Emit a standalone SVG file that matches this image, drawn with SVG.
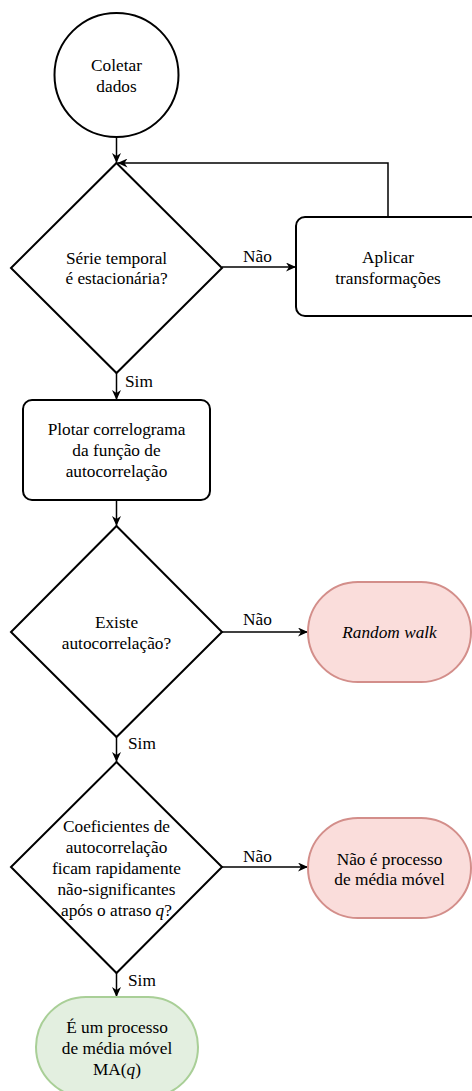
<svg xmlns="http://www.w3.org/2000/svg" width="472" height="1091" viewBox="0 0 472 1091">
<style>
.s{fill:#fff;stroke:#000;stroke-width:2}
.red{fill:#fadddb;stroke:#d38e8a;stroke-width:2}
.grn{fill:#e3efe0;stroke:#a9cf97;stroke-width:2}
.c{fill:none;stroke:#000;stroke-width:1.5}
text{font-family:'Liberation Serif',serif;font-size:17.3px;fill:#000;text-anchor:middle}
.it{font-style:italic}
.lbl{text-anchor:start}
</style>
<defs>
<marker id="a" viewBox="0 0 10 9" refX="10" refY="4.5" markerWidth="10" markerHeight="9" markerUnits="userSpaceOnUse" orient="auto">
<path d="M0,0 L10,4.5 L0,9 L3,4.5 Z" fill="#000"/>
</marker>
</defs>
<g id="connectors" font-family="Liberation Serif, serif">
<line class="c" x1="116.5" y1="138" x2="116.5" y2="163" marker-end="url(#a)"/>
<line class="c" x1="222" y1="267" x2="296" y2="267" marker-end="url(#a)"/>
<polyline class="c" points="388,217 388,163 117.5,163" marker-end="url(#a)"/>
<line class="c" x1="116.5" y1="373" x2="116.5" y2="400" marker-end="url(#a)"/>
<line class="c" x1="116.5" y1="500" x2="116.5" y2="526" marker-end="url(#a)"/>
<line class="c" x1="222" y1="632" x2="308" y2="632" marker-end="url(#a)"/>
<line class="c" x1="116.5" y1="737" x2="116.5" y2="762" marker-end="url(#a)"/>
<line class="c" x1="222" y1="867" x2="308" y2="867" marker-end="url(#a)"/>
<line class="c" x1="116.5" y1="973" x2="116.5" y2="997" marker-end="url(#a)"/>
<text class="lbl" x="243" y="262">Não</text>
<text class="lbl" x="125" y="387">Sim</text>
<text class="lbl" x="243" y="625">Não</text>
<text class="lbl" x="128" y="749">Sim</text>
<text class="lbl" x="243" y="862">Não</text>
<text class="lbl" x="128" y="986">Sim</text>
</g>
<g id="coletar">
<circle class="s" cx="116.5" cy="75" r="62"/>
<text x="116.5" y="71">Coletar</text>
<text x="116.5" y="92">dados</text>
</g>
<g id="estacionaria">
<polygon class="s" points="116.5,163 222,268 116.5,373 11,268"/>
<text x="116.5" y="263.5">Série temporal</text>
<text x="116.5" y="284">é estacionária?</text>
</g>
<g id="aplicar">
<rect class="s" x="296" y="217" width="184" height="99" rx="9"/>
<text x="388" y="262.5">Aplicar</text>
<text x="388" y="283.5">transformações</text>
</g>
<g id="plotar">
<rect class="s" x="23" y="400" width="187" height="100" rx="9"/>
<text x="116.5" y="434.5">Plotar correlograma</text>
<text x="116.5" y="456">da função de</text>
<text x="116.5" y="477">autocorrelação</text>
</g>
<g id="existe">
<polygon class="s" points="116.5,526 222,632 116.5,737 11,632"/>
<text x="116.5" y="627.5">Existe</text>
<text x="116.5" y="648.5">autocorrelação?</text>
</g>
<g id="randomwalk">
<rect class="red" x="308" y="582" width="163" height="100" rx="50"/>
<text class="it" x="389.5" y="637.5">Random walk</text>
</g>
<g id="coeficientes">
<polygon class="s" points="116.5,762 222,867 116.5,973 11,867"/>
<text x="116.5" y="832">Coeficientes de</text>
<text x="116.5" y="853">autocorrelação</text>
<text x="116.5" y="874">ficam rapidamente</text>
<text x="116.5" y="895">não-significantes</text>
<text x="116.5" y="916">após o atraso <tspan class="it">q</tspan>?</text>
</g>
<g id="naoma">
<rect class="red" x="308" y="818" width="163" height="100" rx="50"/>
<text x="389.5" y="864.5">Não é processo</text>
<text x="389.5" y="885">de média móvel</text>
</g>
<g id="ma">
<rect class="grn" x="36" y="997" width="162" height="100" rx="50"/>
<text x="117" y="1033">É um processo</text>
<text x="117" y="1054">de média móvel</text>
<text x="117" y="1075">MA(<tspan class="it">q</tspan>)</text>
</g>
</svg>
